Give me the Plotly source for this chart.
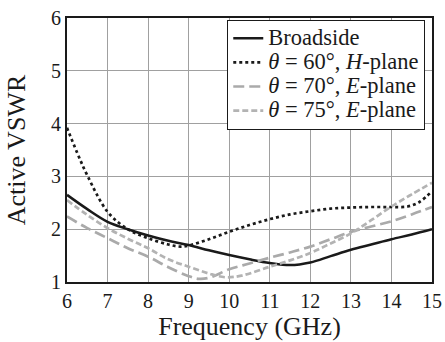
import plotly.graph_objects as go

freq_broad = [6, 6.5, 7, 7.5, 8, 8.5, 9, 9.5, 10, 10.5, 11, 11.5, 12, 12.5, 13, 13.5, 14, 14.5, 15]
vswr_broad = [2.65, 2.38, 2.14, 2.0, 1.88, 1.78, 1.70, 1.60, 1.51, 1.43, 1.36, 1.32, 1.37, 1.49, 1.61, 1.71, 1.81, 1.90, 2.0]

freq_60 = [6, 6.25, 6.5, 7, 7.5, 8, 8.5, 8.8, 9, 9.5, 10, 10.5, 11, 11.5, 12, 12.5, 13, 13.5, 14, 14.4, 14.7, 15]
vswr_60 = [3.92, 3.45, 3.02, 2.33, 2.0, 1.83, 1.71, 1.67, 1.69, 1.81, 1.95, 2.08, 2.19, 2.28, 2.34, 2.39, 2.41, 2.42, 2.42, 2.43, 2.52, 2.72]

freq_70 = [6, 6.5, 7, 7.5, 8, 8.5, 9, 9.25, 9.5, 10, 10.5, 11, 11.5, 12, 12.5, 13, 13.5, 14, 14.5, 15]
vswr_70 = [2.24, 2.02, 1.83, 1.64, 1.48, 1.28, 1.11, 1.06, 1.08, 1.24, 1.35, 1.46, 1.56, 1.67, 1.81, 1.95, 2.05, 2.15, 2.28, 2.42]

freq_75 = [6, 6.5, 7, 7.5, 8, 8.5, 9, 9.5, 9.9, 10.3, 11, 11.5, 12, 12.5, 13, 13.5, 14, 14.5, 15]
vswr_75 = [2.55, 2.27, 2.02, 1.82, 1.64, 1.43, 1.29, 1.16, 1.09, 1.12, 1.29, 1.41, 1.55, 1.73, 1.92, 2.17, 2.43, 2.66, 2.88]

names = ["Broadside",
         "<i>θ</i> = 60°, <i>H</i>-plane",
         "<i>θ</i> = 70°, <i>E</i>-plane",
         "<i>θ</i> = 75°, <i>E</i>-plane"]

x_ticks = [6, 7, 8, 9, 10, 11, 12, 13, 14, 15]
y_ticks = [1, 2, 3, 4, 5, 6]

FONT = "Liberation Serif"


def big(t):
    return '<span style="font-size:22.5px">' + t + '</span>'


fig = go.Figure()
fig.add_trace(go.Scatter(x=freq_broad, y=vswr_broad, mode="lines", name=big(names[0]),
                         line=dict(color="#1a1a1a", width=2.5, shape="spline")))
fig.add_trace(go.Scatter(x=freq_60, y=vswr_60, mode="lines", name=big(names[1]),
                         line=dict(color="#1a1a1a", width=2.7, dash="3px,3px", shape="spline")))
fig.add_trace(go.Scatter(x=freq_70, y=vswr_70, mode="lines", name=big(names[2]),
                         line=dict(color="#aaaaaa", width=2.7, dash="11px,5px", shape="spline")))
fig.add_trace(go.Scatter(x=freq_75, y=vswr_75, mode="lines", name=big(names[3]),
                         line=dict(color="#b3b3b3", width=2.7, dash="6px,3px", shape="spline")))

fig.update_layout(
    width=445, height=342,
    margin=dict(l=67, r=13, t=18, b=60, autoexpand=False),
    paper_bgcolor="white", plot_bgcolor="white",
    font=dict(family=FONT, size=20, color="#1a1a1a"),
    showlegend=True,
    legend=dict(x=0.981, y=0.993, xanchor="right", yanchor="top",
                bgcolor="white", bordercolor="#1a1a1a", borderwidth=1.2,
                font=dict(family=FONT, size=16.3), tracegroupgap=0,
                itemwidth=30, traceorder="normal"),
)
fig.update_xaxes(range=[6, 15], tickvals=x_ticks, ticktext=[str(v) for v in x_ticks],
                 showgrid=True, gridcolor="#a0a0a0", gridwidth=1.2,
                 showline=True, linecolor="#1a1a1a", linewidth=2, mirror=True,
                 ticks="", zeroline=False, automargin=True,
                 title=dict(text="Frequency (GHz)", font=dict(size=26), standoff=0),
                 tickfont=dict(size=20))
fig.update_yaxes(range=[1, 6], tickvals=y_ticks, ticktext=[str(v) for v in y_ticks],
                 showgrid=True, gridcolor="#a0a0a0", gridwidth=1.2,
                 showline=True, linecolor="#1a1a1a", linewidth=2, mirror=True,
                 ticks="", zeroline=False, automargin=True,
                 title=dict(text="Active VSWR", font=dict(size=26), standoff=18),
                 tickfont=dict(size=20))

fig.write_html("out.html", config={"displayModeBar": False})

with open("out.html", "r", encoding="utf-8") as f:
    html = f.read()
html = html.replace("<body>", '<body style="margin:0;padding:0;overflow:hidden">', 1)
with open("out.html", "w", encoding="utf-8") as f:
    f.write(html)
